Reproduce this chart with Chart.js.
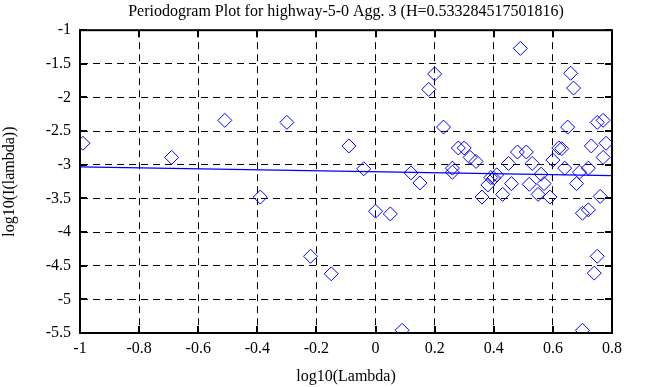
<!DOCTYPE html>
<html>
<head>
<meta charset="utf-8">
<script src="https://cdn.jsdelivr.net/npm/chart.js@4/dist/chart.umd.min.js"></script>
<style>
  html, body { margin: 0; padding: 0; background: #fff; }
  #wrap { width: 658px; height: 387px; }
</style>
</head>
<body>
<div id="wrap"><canvas id="chartCanvas" width="658" height="387"></canvas></div>
<script>
// data (two groups, both drawn as blue diamonds)
let groupAX = [-0.30, -0.39, -0.09, -0.04, -0.15, 0.00, 0.20, 0.18, 0.23, 0.26, 0.28, 0.49, 0.65, 0.36, 0.41, 0.45, 0.53, 0.46, 0.55, 0.64, 0.76, 0.70, 0.72, 0.26];
let groupAY = [-2.37, -3.48, -2.72, -3.06, -4.62, -3.69, -1.65, -1.88, -2.44, -3.05, -2.75, -1.27, -2.44, -3.48, -3.15, -2.98, -2.98, -3.28, -3.44, -3.05, -3.47, -5.46, -3.05, -3.11];

let groupBX = [-0.99, -0.69, -0.51, -0.22, 0.05, 0.09, 0.12, 0.15, 0.66, 0.67, 0.75, 0.77, 0.30, 0.32, 0.34, 0.48, 0.51, 0.38, 0.40, 0.43, 0.52, 0.57, 0.59, 0.60, 0.62, 0.63, 0.69, 0.68, 0.70, 0.72, 0.75, 0.74, 0.73, 0.78, 0.77, 0.56, 0.39];
let groupBY = [-2.68, -2.89, -2.34, -4.36, -3.73, -5.46, -3.12, -3.27, -1.64, -1.86, -2.37, -2.34, -2.75, -2.89, -2.95, -2.81, -2.81, -3.30, -3.20, -3.44, -3.29, -3.28, -3.48, -2.93, -2.75, -2.76, -3.11, -3.28, -3.72, -3.67, -4.36, -4.61, -2.72, -2.68, -2.89, -3.14, -3.19];

let fitX = [-1, 0.8];
let fitY = [-3.03, -3.16];

let xTickVals = [-1, -0.8, -0.6, -0.4, -0.2, 0, 0.2, 0.4, 0.6, 0.8];
let xTickLabels = ['-1', '-0.8', '-0.6', '-0.4', '-0.2', '0', '0.2', '0.4', '0.6', '0.8'];
let yTickVals = [-5.5, -5, -4.5, -4, -3.5, -3, -2.5, -2, -1.5, -1];
let yTickLabels = ['-5.5', '-5', '-4.5', '-4', '-3.5', '-3', '-2.5', '-2', '-1.5', '-1'];

const serif = 'Liberation Serif';
const blue = '#0000ff';

function pts(xs, ys) {
    return xs.map((x, i) => ({ x: x, y: ys[i] }));
}

// gnuplot style frame with inward ticks on all four sides
const framePlugin = {
    id: 'frame',
    afterDraw(chart) {
        const ctx = chart.ctx;
        const a = chart.chartArea;
        const xs = chart.scales.x;
        const ys = chart.scales.y;
        const len = 7;
        ctx.save();
        ctx.strokeStyle = '#000';
        ctx.lineWidth = 2;
        ctx.setLineDash([]);
        ctx.beginPath();
        xTickVals.forEach(v => {
            const px = Math.round(xs.getPixelForValue(v));
            ctx.moveTo(px, a.bottom); ctx.lineTo(px, a.bottom - len);
            ctx.moveTo(px, a.top); ctx.lineTo(px, a.top + len);
        });
        yTickVals.forEach(v => {
            const py = Math.round(ys.getPixelForValue(v));
            ctx.moveTo(a.left, py); ctx.lineTo(a.left + len, py);
            ctx.moveTo(a.right, py); ctx.lineTo(a.right - len, py);
        });
        ctx.stroke();
        ctx.strokeRect(a.left, a.top, a.right - a.left, a.bottom - a.top);
        ctx.restore();
    }
};

let diamond = {
    pointStyle: 'rectRot',
    pointRadius: 7,
    pointBorderWidth: 1,
    pointBorderColor: blue,
    pointBackgroundColor: 'rgba(0,0,0,0)'
};

let chart = new Chart('chartCanvas', {
    type: 'scatter',
    data: {
        datasets: [
            {
                type: 'line',
                data: pts(fitX, fitY),
                borderColor: blue,
                borderWidth: 1.3,
                pointRadius: 0,
                fill: false,
                order: 3
            },
            Object.assign({ data: pts(groupAX, groupAY), order: 2 }, diamond),
            Object.assign({ data: pts(groupBX, groupBY), order: 1 }, diamond)
        ]
    },
    options: {
        responsive: false,
        animation: false,
        events: [],
        layout: { padding: { left: 0, right: 46, top: 0, bottom: 0 } },
        plugins: {
            legend: { display: false },
            tooltip: { enabled: false },
            title: {
                display: true,
                fullSize: false,
                text: 'Periodogram Plot for highway-5-0 Agg. 3 (H=0.533284517501816)',
                color: '#000',
                font: { family: serif, size: 16, weight: 'normal' },
                padding: { top: 2, bottom: 9 }
            }
        },
        scales: {
            x: {
                type: 'linear',
                min: -1,
                max: 0.8,
                afterBuildTicks: (scale) => { scale.ticks = xTickVals.map(v => ({ value: v })); },
                afterFit: (scale) => { scale.height = 54; },
                ticks: {
                    color: '#000',
                    font: { family: serif, size: 16 },
                    padding: 6,
                    maxRotation: 0,
                    autoSkip: false,
                    callback: (v) => xTickLabels[xTickVals.indexOf(Math.round(v * 10) / 10)]
                },
                grid: { color: '#000', lineWidth: 1, drawTicks: false },
                border: { display: true, color: '#000', width: 2, dash: [7, 5] },
                title: {
                    display: true,
                    text: 'log10(Lambda)',
                    color: '#000',
                    font: { family: serif, size: 16 },
                    padding: { top: 0, bottom: 1 }
                }
            },
            y: {
                type: 'linear',
                min: -5.5,
                max: -1,
                afterBuildTicks: (scale) => { scale.ticks = yTickVals.map(v => ({ value: v })); },
                afterFit: (scale) => { scale.width = 80; },
                ticks: {
                    color: '#000',
                    font: { family: serif, size: 16 },
                    padding: 9,
                    autoSkip: false,
                    callback: (v) => yTickLabels[yTickVals.indexOf(Math.round(v * 10) / 10)]
                },
                grid: { color: '#000', lineWidth: 1, drawTicks: false },
                border: { display: true, color: '#000', width: 2, dash: [7, 5] },
                title: {
                    display: true,
                    text: 'log10(I(lambda))',
                    color: '#000',
                    font: { family: serif, size: 16 },
                    padding: { top: 0, bottom: 0 }
                }
            }
        }
    },
    plugins: [framePlugin]
});
</script>
</body>
</html>
